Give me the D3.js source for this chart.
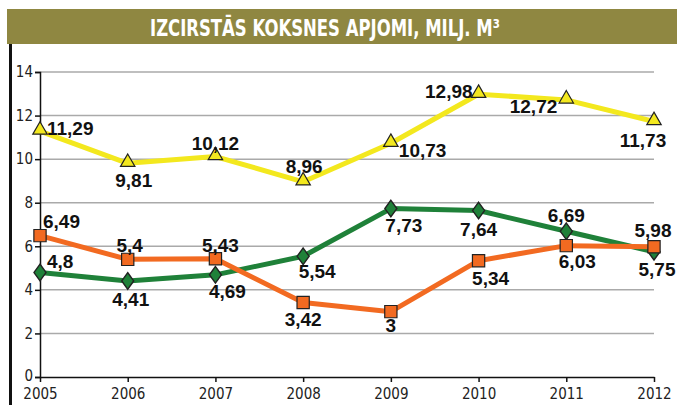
<!DOCTYPE html>
<html>
<head>
<meta charset="utf-8">
<script src="https://cdn.jsdelivr.net/npm/d3@7"></script>
<style>
  body { margin: 0; background: #fff; }
  svg { display: block; }
  .axis text { font-family: "Liberation Sans Narrow", "DejaVu Sans Condensed", sans-serif; font-size: 15px; fill: #222; }
  .val { font-family: "Liberation Sans", Arial, sans-serif; font-weight: bold; font-size: 19px; fill: #111; }
</style>
</head>
<body>
<div id="chart"></div>
<script>
let width = 677, height = 405,
    margin = ({ top: 72, right: 23, bottom: 28, left: 40 });

// data
const years = [2005, 2006, 2007, 2008, 2009, 2010, 2011, 2012];
const yellowVals = [11.29, 9.81, 10.12, 8.96, 10.73, 12.98, 12.72, 11.73];
const orangeVals = [6.49, 5.4, 5.43, 3.42, 3, 5.34, 6.03, 5.98];
const greenVals = [4.8, 4.41, 4.69, 5.54, 7.73, 7.64, 6.69, 5.75];
const yTicks = [0, 2, 4, 6, 8, 10, 12, 14];
const title = "IZCIRSTĀS KOKSNES APJOMI, MILJ. M³";

// label placement (anchor, dx, dy of text centre from the marker)
const yellowLab = [["start",7,-3],["middle",6,17],["middle",0,-14],["middle",1,-16],["start",8,7],["end",-6,-3],["end",-9,6],["middle",-11,19]];
const orangeLab = [["start",3,-15],["middle",2,-14],["middle",5,-14],["middle",0,17],["middle",0,13],["middle",12,17],["middle",11,15],["middle",-1,-17]];
const greenLab = [["start",7,-11],["middle",3,18],["middle",12,16],["middle",14,15],["middle",13,16],["middle",0,18],["middle",0,-16],["middle",3,17]];

const svg = d3.select("#chart").append("svg")
    .attr("width", width).attr("height", height);

// title band
svg.append("rect").attr("x", 7).attr("y", 9).attr("width", width - 7).attr("height", 35).attr("fill", "#8f8741");
svg.append("text")
    .attr("x", 150).attr("y", 36)
    .attr("font-family", "'Liberation Sans Narrow', 'DejaVu Sans Condensed', sans-serif")
    .attr("font-weight", "bold")
    .attr("font-size", 23)
    .attr("textLength", 350)
    .attr("lengthAdjust", "spacingAndGlyphs")
    .attr("fill", "#fff")
    .text(title);

// left black bar
svg.append("rect").attr("x", 9).attr("y", 44).attr("width", 3).attr("height", height - 44).attr("fill", "#111");

let x = d3.scalePoint().domain(years).range([margin.left, width - margin.right]);
let y = d3.scaleLinear().domain([0, 14]).range([height - margin.bottom, margin.top]);

// grid
svg.append("g").selectAll("line").data(yTicks.filter(d => d > 0)).join("line")
    .attr("x1", margin.left).attr("x2", width - margin.right)
    .attr("y1", d => y(d)).attr("y2", d => y(d))
    .attr("stroke", "#aaa").attr("stroke-width", 1.5);

svg.append("g")
    .attr("class", "axis")
    .attr("transform", `translate(${margin.left},0)`)
    .call(d3.axisLeft(y).tickValues(yTicks).tickSize(5).tickPadding(2))
    .call(g => g.selectAll("path,line").attr("stroke", "#111").attr("stroke-width", 1.5))
    .call(g => g.selectAll("text").filter(d => d === 0).attr("dy", "0.2em"));

svg.append("g")
    .attr("class", "axis")
    .attr("transform", `translate(0,${height - margin.bottom})`)
    .call(d3.axisBottom(x).tickSize(5).tickPadding(6).tickSizeOuter(0))
    .call(g => g.selectAll("path,line").attr("stroke", "#111").attr("stroke-width", 1.5));

const line = d3.line().x((d, i) => x(years[i])).y(d => y(d));

function series(vals, color, symbol, size, labs) {
  svg.append("path").datum(vals)
    .attr("d", line).attr("fill", "none")
    .attr("stroke", color).attr("stroke-width", 5).attr("stroke-linejoin", "round");
  svg.append("g").selectAll("path").data(vals).join("path")
    .attr("d", d3.symbol().type(symbol).size(size))
    .attr("transform", (d, i) => symbol === d3.symbolSquare ? `translate(${x(years[i])},${y(d)})` : symbol === d3.symbolDiamond ? `translate(${x(years[i])},${y(d)}) scale(1.25,1)` : `translate(${x(years[i])},${y(d) - 1})`)
    .attr("fill", color).attr("stroke", "#222").attr("stroke-width", 1.2);
  svg.append("g").selectAll("text").data(vals).join("text")
    .attr("class", "val")
    .attr("text-anchor", (d, i) => labs[i][0])
    .attr("x", (d, i) => x(years[i]) + labs[i][1])
    .attr("y", (d, i) => y(d) + labs[i][2] + 7)
    .text(d => String(d).replace(".", ","));
}

series(yellowVals, "#f3e81e", d3.symbolTriangle, 90, yellowLab);
series(greenVals, "#1f8139", d3.symbolDiamond, 80, greenLab);
series(orangeVals, "#f26a21", d3.symbolSquare, 150, orangeLab);
</script>
</body>
</html>
